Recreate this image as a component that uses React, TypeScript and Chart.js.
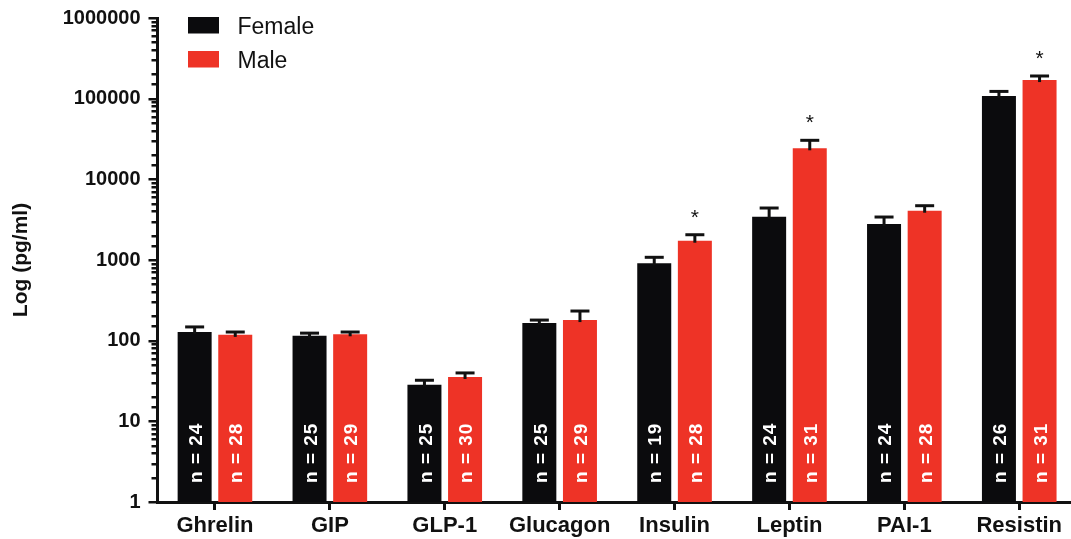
import React, { useEffect, useRef } from 'react';
import { Chart, registerables } from 'chart.js';

Chart.register(...registerables);

const categories = ['Ghrelin', 'GIP', 'GLP-1', 'Glucagon', 'Insulin', 'Leptin', 'PAI-1', 'Resistin'];
const femaleMean = [128, 115, 28.5, 166, 910, 3440, 2795, 108000];
const femaleUpper = [148, 124, 32.3, 180, 1080, 4410, 3410, 123000];
const maleMean = [118, 120, 35.5, 180, 1735, 24250, 4085, 170000];
const maleUpper = [128, 128, 39.8, 233, 2057, 30460, 4710, 191000];
const femaleN = [24, 25, 25, 25, 19, 24, 24, 26];
const maleN = [28, 29, 30, 29, 28, 31, 28, 31];
const maleSignificance = ['', '', '', '', '*', '*', '', '*'];
const femaleSignificance = ['', '', '', '', '', '', '', ''];
const yTickLabels = [1, 10, 100, 1000, 10000, 100000, 1000000];

const FONT = '"Liberation Sans", Arial, Helvetica, sans-serif';
const BLACK = '#0b0b0d';
const RED = '#ee3326';
const INK = '#111111';

const upperByDataset = [femaleUpper, maleUpper];
const nByDataset = [femaleN, maleN];
const sigByDataset = [femaleSignificance, maleSignificance];

const isLabelTick = (v: number) => yTickLabels.some((t) => Math.abs(t - v) / t < 1e-9);

const annotatePlugin = {
  id: 'annotate',
  afterDatasetsDraw(chart: any) {
    const ctx = chart.ctx;
    const y = chart.scales.y;
    const area = chart.chartArea;
    ctx.save();
    chart.data.datasets.forEach((ds: any, di: number) => {
      const meta = chart.getDatasetMeta(di);
      meta.data.forEach((bar: any, i: number) => {
        const up = upperByDataset[di][i];
        const yCap = y.getPixelForValue(up);
        // error bar stem + cap
        ctx.strokeStyle = INK;
        ctx.lineWidth = 3;
        ctx.lineCap = 'butt';
        ctx.beginPath();
        ctx.moveTo(bar.x, bar.y + 2);
        ctx.lineTo(bar.x, yCap);
        ctx.stroke();
        ctx.beginPath();
        ctx.moveTo(bar.x - 9.5, yCap);
        ctx.lineTo(bar.x + 9.5, yCap);
        ctx.stroke();
        // significance
        const s = sigByDataset[di][i];
        if (s) {
          ctx.fillStyle = INK;
          ctx.font = `21px ${FONT}`;
          ctx.textAlign = 'center';
          ctx.textBaseline = 'middle';
          ctx.fillText(s, bar.x, yCap - 17);
        }
        // n label
        ctx.save();
        ctx.translate(bar.x + 2, area.bottom - 19);
        ctx.rotate(-Math.PI / 2);
        ctx.fillStyle = '#ffffff';
        ctx.font = `bold 19px ${FONT}`;
        (ctx as any).letterSpacing = '1px';
        ctx.textAlign = 'left';
        ctx.textBaseline = 'middle';
        ctx.fillText(`n = ${nByDataset[di][i]}`, 0, 0);
        ctx.restore();
      });
    });
    ctx.restore();
  },
  afterDraw(chart: any) {
    const ctx = chart.ctx;
    const y = chart.scales.y;
    const area = chart.chartArea;
    ctx.save();
    // y tick marks (major & minor)
    ctx.strokeStyle = INK;
    ctx.lineWidth = 2.5;
    y.ticks.forEach((t: any) => {
      const py = Math.round(y.getPixelForValue(t.value)) + 0.25;
      const len = isLabelTick(t.value) ? 9 : 6;
      ctx.beginPath();
      ctx.moveTo(area.left, py);
      ctx.lineTo(area.left - len, py);
      ctx.stroke();
    });
    // legend
    const items = chart.data.datasets.map((d: any) => ({ label: d.label, color: d.backgroundColor }));
    items.forEach((it: any, k: number) => {
      const top = 17 + k * 34;
      ctx.fillStyle = it.color;
      ctx.fillRect(188, top, 31, 16.5);
      ctx.fillStyle = INK;
      ctx.font = `23px ${FONT}`;
      ctx.textAlign = 'left';
      ctx.textBaseline = 'alphabetic';
      ctx.fillText(it.label, 237.5, top + 16.5);
    });
    ctx.restore();
  },
};

export default function App() {
  const ref = useRef<HTMLCanvasElement>(null);
  useEffect(() => {
    if (!ref.current) return;
    const chart = new Chart(ref.current, {
      type: 'bar',
      data: {
        labels: categories,
        datasets: [
          { label: 'Female', data: femaleMean, backgroundColor: BLACK, borderWidth: 0 },
          { label: 'Male', data: maleMean, backgroundColor: RED, borderWidth: 0 },
        ],
      },
      options: {
        responsive: false,
        animation: false,
        devicePixelRatio: 1,
        layout: { padding: { left: 0, right: 13.3, top: 18, bottom: 0 } },
        datasets: { bar: { categoryPercentage: 0.707, barPercentage: 0.837 } } as any,
        plugins: { legend: { display: false }, tooltip: { enabled: false } },
        scales: {
          x: {
            type: 'category',
            grid: {
              display: true,
              drawOnChartArea: false,
              drawTicks: true,
              tickLength: 8,
              offset: false,
              color: INK,
              lineWidth: 3,
            },
            border: { display: true, color: INK, width: 3 },
            ticks: {
              color: INK,
              padding: 3,
              font: { family: FONT, size: 22, weight: 'bold' },
              maxRotation: 0,
              autoSkip: false,
            },
            afterFit: (s: any) => {
              s.height = 37;
              s.paddingLeft = 0;
              s.paddingRight = 0;
            },
          },
          y: {
            type: 'logarithmic',
            min: 1,
            max: 1000000,
            grid: { display: false, drawTicks: false },
            border: { display: true, color: INK, width: 3 },
            ticks: {
              autoSkip: false,
              padding: 17,
              color: INK,
              font: { family: FONT, size: 20, weight: 'bold' },
              callback: (v: any) => (isLabelTick(Number(v)) ? String(Math.round(Number(v))) : ''),
            },
            title: {
              display: true,
              text: 'Log (pg/ml)',
              color: INK,
              padding: { top: 9, bottom: 0 },
              font: { family: FONT, size: 21, weight: 'bold' },
            },
            afterFit: (s: any) => {
              s.width = 157.5;
              s.paddingTop = 12;
              s.paddingBottom = 12;
            },
          },
        },
      } as any,
      plugins: [annotatePlugin],
    });
    return () => chart.destroy();
  }, []);
  return (
    <div
      style={{
        position: 'fixed',
        left: 0,
        top: 0,
        width: 1071,
        height: 539,
        overflow: 'hidden',
        background: '#ffffff',
      }}
    >
      <canvas ref={ref} width={1090} height={539} style={{ width: 1090, height: 539, display: 'block' }} />
    </div>
  );
}
